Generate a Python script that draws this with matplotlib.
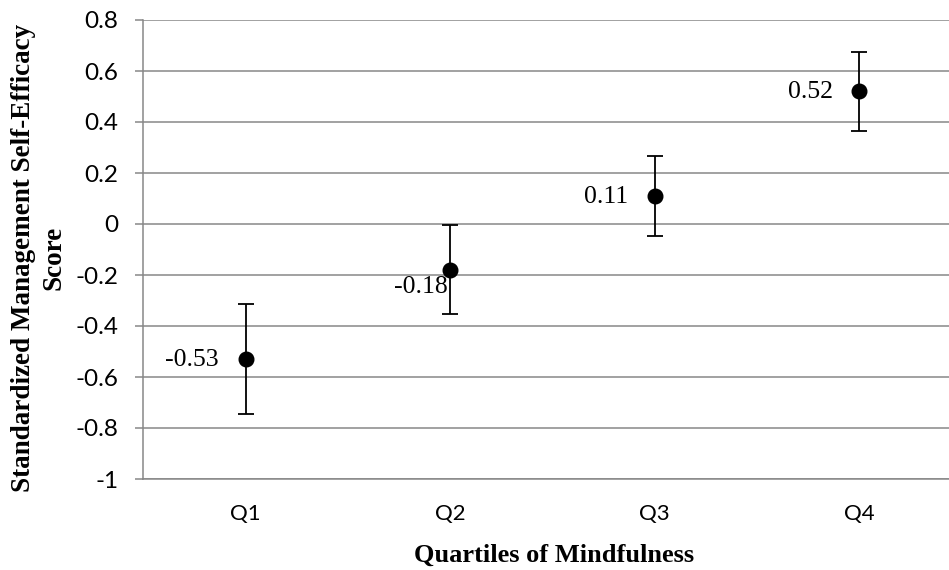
#!/usr/bin/env python3

"""
Management self-efficacy by quartile of mindfulness: means with error bars.
"""

import numpy as np
import matplotlib
matplotlib.use("Agg")
import matplotlib.pyplot as plt

# data
quartiles = ["Q1", "Q2", "Q3", "Q4"]
means = [-0.53, -0.18, 0.11, 0.52]
err_low = [-0.744, -0.353, -0.046, 0.363]
err_high = [-0.314, -0.003, 0.268, 0.676]
yticks = [-1.0, -0.8, -0.6, -0.4, -0.2, 0.0, 0.2, 0.4, 0.6, 0.8]
ytick_labels = ["-1", "-0.8", "-0.6", "-0.4", "-0.2", "0", "0.2", "0.4", "0.6", "0.8"]

# where each value label sits relative to its point (pixels)
label_offsets = [(-27, -1), (-2, -17), (-27, -1), (-26, -1)]

GRID = "#878787"


def main():
    plt.rcParams["axes.unicode_minus"] = False
    W, H = 949, 570
    fig = plt.figure(figsize=(W / 100, H / 100), dpi=100)
    # plot area runs past the right edge of the picture, like the original
    left, top, bottom, right = 143.3, 20, 479, 961.7
    ax = fig.add_axes([left / W, 1 - bottom / H, (right - left) / W, (bottom - top) / H])

    x = np.arange(1, len(quartiles) + 1)
    m = np.array(means)
    yerr = [m - np.array(err_low), np.array(err_high) - m]
    ax.errorbar(x, m, yerr=yerr, fmt="o", color="black", ecolor="black",
                markersize=10.5, elinewidth=1.3, capsize=5.5, capthick=1.3,
                zorder=3, clip_on=False)

    for xi, yi, (dx, dy) in zip(x, means, label_offsets):
        ax.annotate(f"{yi:.2f}", (xi, yi), xytext=(dx, dy),
                    textcoords="offset pixels", ha="right", va="center",
                    family="Liberation Serif", fontsize=18.5)

    ax.set_xlim(0.5, len(quartiles) + 0.5)
    ax.set_ylim(-1, 0.8)
    ax.set_yticks(yticks)
    ax.set_yticklabels(ytick_labels, family="Lato", fontsize=17.5)
    ax.set_xticks(x)
    ax.set_xticklabels(quartiles, family="Lato", fontsize=16)
    ax.tick_params(axis="x", length=0, pad=18)
    ax.tick_params(axis="y", length=6, width=1.1, color=GRID, pad=12)

    ax.grid(axis="y", color=GRID, linewidth=1.1)
    ax.set_axisbelow(True)
    for s in ["top", "right"]:
        ax.spines[s].set_visible(False)
    for s in ["left", "bottom"]:
        ax.spines[s].set_color(GRID)
        ax.spines[s].set_linewidth(1.1)

    ax.set_xlabel("Quartiles of Mindfulness", family="Liberation Serif",
                  fontweight="bold", fontsize=19)
    ax.xaxis.set_label_coords((554 - left) / (right - left), -(544 - bottom) / (bottom - top))
    ax.set_ylabel("Standardized Management Self-Efficacy\nScore",
                  family="Liberation Serif", fontweight="bold", fontsize=19.5,
                  va="center", linespacing=1.3)
    ax.yaxis.set_label_coords(-(left - 39) / (right - left), (bottom - 258) / (bottom - top))

    fig.savefig("out.png", dpi=100)


if __name__ == "__main__":
    main()
